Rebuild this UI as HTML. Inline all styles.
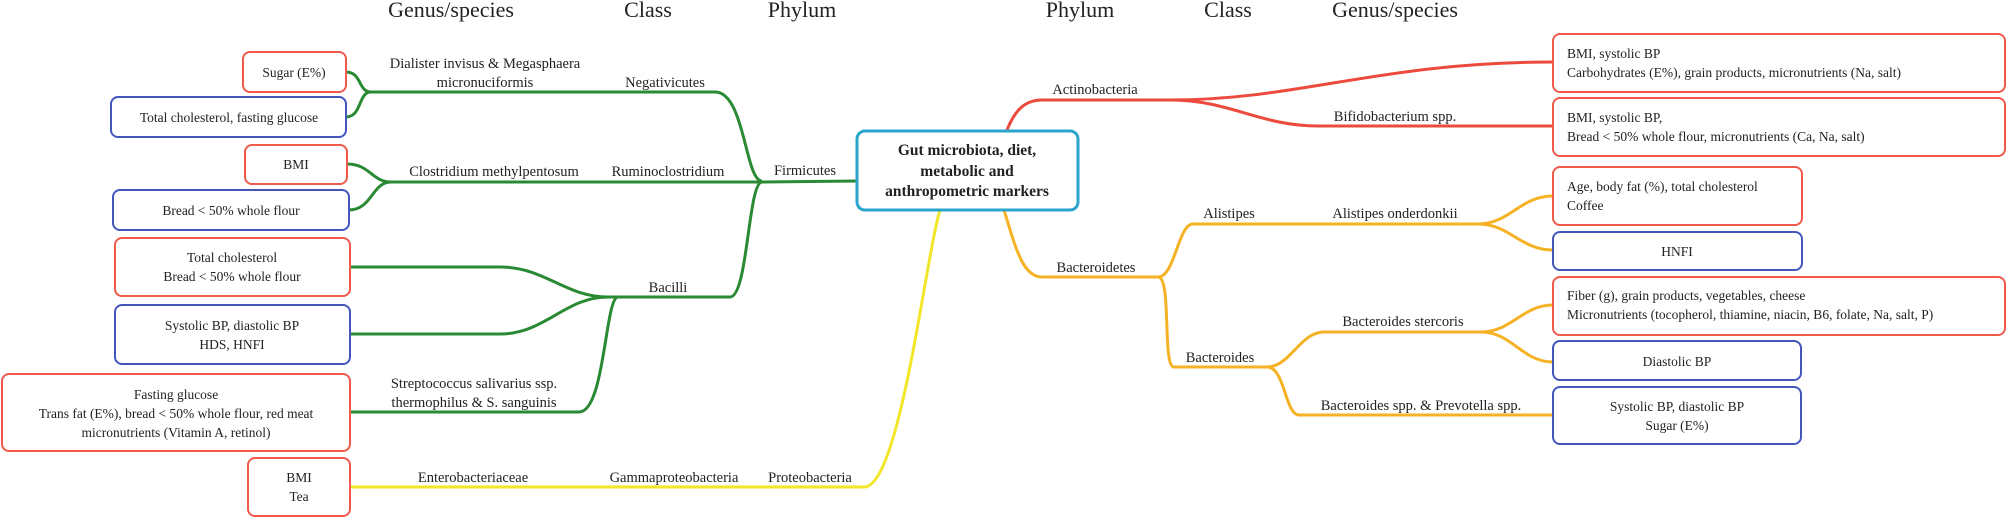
<!DOCTYPE html>
<html><head><meta charset="utf-8"><style>
html,body{margin:0;padding:0;background:#fff;}
svg{display:block;}
text{font-family:"Liberation Serif",serif;fill:#222;}
.h{font-size:22px;}
.l{font-size:14.5px;}
.b{font-size:13.5px;}
.g{stroke:#2a8a34;stroke-width:3;fill:none;}
.r{stroke:#ec4a3c;stroke-width:3;fill:none;}
.y{stroke:#f2e629;stroke-width:3;fill:none;}
.o{stroke:#f6b225;stroke-width:3;fill:none;}
.br{fill:#fff;stroke:#ef5a4c;stroke-width:2;}
.bb{fill:#fff;stroke:#4356bd;stroke-width:2;}
</style></head><body>
<svg width="2008" height="518" viewBox="0 0 2008 518" xmlns="http://www.w3.org/2000/svg">
<g class="h" text-anchor="middle">
<text x="451" y="17">Genus/species</text>
<text x="648" y="17">Class</text>
<text x="802" y="17">Phylum</text>
<text x="1080" y="17">Phylum</text>
<text x="1228" y="17">Class</text>
<text x="1395" y="17">Genus/species</text>
</g>

<path class="g" d="M346,72 C362,72 358,92 371,92 L715,92 C745,92 745,181 762,181"/>
<path class="g" d="M346,117 C362,117 358,92 371,92"/>
<path class="g" d="M347,164 C370,164 372,182 391,182 L762,182 L858,181"/>
<path class="g" d="M349,210 C372,210 372,182 391,182"/>
<path class="g" d="M350,267 L500,267 C545,267 565,297 608,297 L730,297 C748,297 748,182 762,182"/>
<path class="g" d="M350,334 L500,334 C545,334 565,297 608,297"/>
<path class="g" d="M349,412 L579,412 C605,412 605,297 618,297"/>
<path class="y" d="M349,487 L864,487 C900,487 925,260 940,210"/>
<path class="r" d="M1007,130 C1015,110 1025,100 1042,100 L1170,100 C1300,100 1380,62 1553,62"/>
<path class="r" d="M1170,100 C1230,100 1260,126 1318,126 L1553,126"/>
<path class="o" d="M1004,210 C1015,245 1022,277 1042,277 L1158,277 C1175,277 1178,224 1193,224 L1478,224 C1510,224 1520,196 1553,196"/>
<path class="o" d="M1478,224 C1510,224 1520,250 1553,250"/>
<path class="o" d="M1158,277 C1172,277 1162,367 1174,367 L1267,367 C1290,367 1300,332 1324,332 L1481,332 C1512,332 1522,305 1553,305"/>
<path class="o" d="M1481,332 C1512,332 1522,362 1553,362"/>
<path class="o" d="M1267,367 C1285,367 1285,415 1299,415 L1553,415"/>

<g class="l" text-anchor="middle">
<text x="485" y="68">Dialister invisus &amp; Megasphaera</text>
<text x="485" y="87">micronuciformis</text>
<text x="665" y="87">Negativicutes</text>
<text x="494" y="176">Clostridium methylpentosum</text>
<text x="668" y="176">Ruminoclostridium</text>
<text x="805" y="175">Firmicutes</text>
<text x="668" y="292">Bacilli</text>
<text x="474" y="388">Streptococcus salivarius ssp.</text>
<text x="474" y="407">thermophilus &amp; S. sanguinis</text>
<text x="473" y="482">Enterobacteriaceae</text>
<text x="674" y="482">Gammaproteobacteria</text>
<text x="810" y="482">Proteobacteria</text>
<text x="1095" y="94">Actinobacteria</text>
<text x="1395" y="121">Bifidobacterium spp.</text>
<text x="1096" y="272">Bacteroidetes</text>
<text x="1229" y="218">Alistipes</text>
<text x="1395" y="218">Alistipes onderdonkii</text>
<text x="1220" y="362">Bacteroides</text>
<text x="1403" y="326">Bacteroides stercoris</text>
<text x="1421" y="410">Bacteroides spp. &amp; Prevotella spp.</text>
</g>

<rect class="br" x="243" y="52" width="103" height="40" rx="7"/>
<rect class="bb" x="111" y="97" width="235" height="40" rx="7"/>
<rect class="br" x="245" y="145" width="102" height="39" rx="7"/>
<rect class="bb" x="113" y="190" width="236" height="40" rx="7"/>
<rect class="br" x="115" y="238" width="235" height="58" rx="7"/>
<rect class="bb" x="115" y="305" width="235" height="59" rx="7"/>
<rect class="br" x="2" y="374" width="348" height="77" rx="7"/>
<rect class="br" x="248" y="458" width="102" height="58" rx="7"/>
<g class="b" text-anchor="middle">
<text x="294" y="77">Sugar (E%)</text>
<text x="229" y="122">Total cholesterol, fasting glucose</text>
<text x="296" y="169">BMI</text>
<text x="231" y="215">Bread &lt; 50% whole flour</text>
<text x="232" y="262">Total cholesterol</text>
<text x="232" y="281">Bread &lt; 50% whole flour</text>
<text x="232" y="330">Systolic BP, diastolic BP</text>
<text x="232" y="349">HDS, HNFI</text>
<text x="176" y="399">Fasting glucose</text>
<text x="176" y="418">Trans fat (E%), bread &lt; 50% whole flour, red meat</text>
<text x="176" y="437">micronutrients (Vitamin A, retinol)</text>
<text x="299" y="482">BMI</text>
<text x="299" y="501">Tea</text>
</g>

<rect x="857" y="131" width="221" height="79" rx="8" fill="#fff" stroke="#2aa5cc" stroke-width="3"/>
<g text-anchor="middle" font-weight="bold" style="font-size:15.5px">
<text x="967" y="155">Gut microbiota, diet,</text>
<text x="967" y="176">metabolic and</text>
<text x="967" y="196">anthropometric markers</text>
</g>

<rect class="br" x="1553" y="34" width="452" height="58" rx="7"/>
<rect class="br" x="1553" y="98" width="452" height="58" rx="7"/>
<rect class="br" x="1553" y="167" width="249" height="58" rx="7"/>
<rect class="bb" x="1553" y="232" width="249" height="38" rx="7"/>
<rect class="br" x="1553" y="277" width="452" height="58" rx="7"/>
<rect class="bb" x="1553" y="341" width="248" height="39" rx="7"/>
<rect class="bb" x="1553" y="387" width="248" height="57" rx="7"/>
<g class="b">
<text x="1567" y="58">BMI, systolic BP</text>
<text x="1567" y="77">Carbohydrates (E%), grain products, micronutrients (Na, salt)</text>
<text x="1567" y="122">BMI, systolic BP,</text>
<text x="1567" y="141">Bread &lt; 50% whole flour, micronutrients (Ca, Na, salt)</text>
<text x="1567" y="191">Age, body fat (%), total cholesterol</text>
<text x="1567" y="210">Coffee</text>
<text x="1567" y="300">Fiber (g), grain products, vegetables, cheese</text>
<text x="1567" y="319">Micronutrients (tocopherol, thiamine, niacin, B6, folate, Na, salt, P)</text>
</g>
<g class="b" text-anchor="middle">
<text x="1677" y="256">HNFI</text>
<text x="1677" y="366">Diastolic BP</text>
<text x="1677" y="411">Systolic BP, diastolic BP</text>
<text x="1677" y="430">Sugar (E%)</text>
</g>
</svg>
</body></html>
